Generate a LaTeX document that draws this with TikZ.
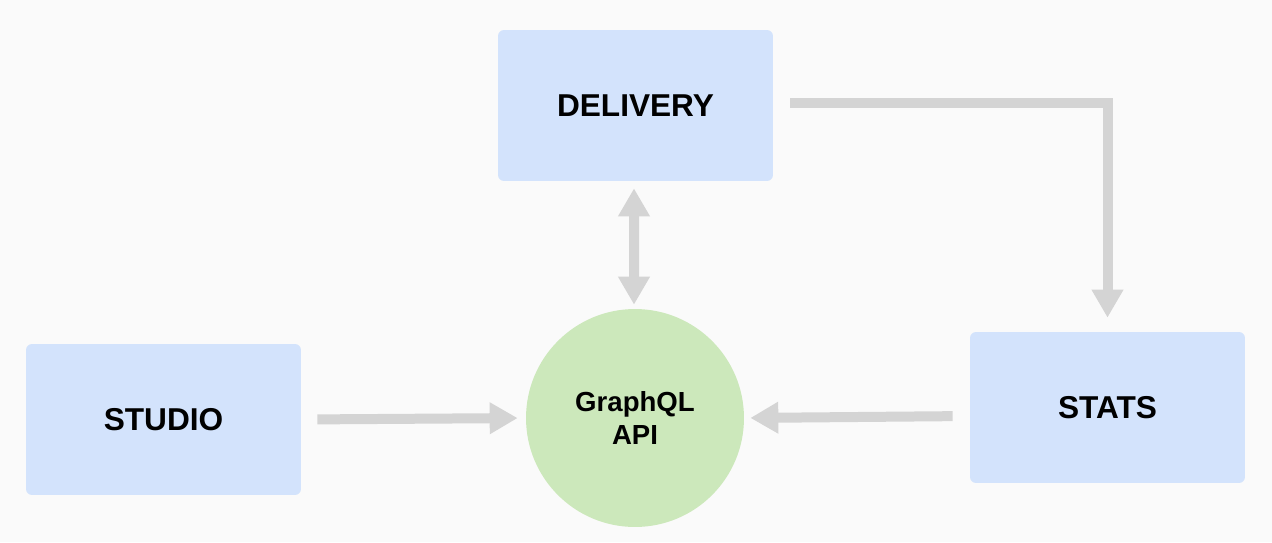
\documentclass[tikz,border=0pt]{standalone}
\usepackage{fontspec}
\setmainfont{Liberation Sans}
\usetikzlibrary{arrows.meta}

\definecolor{bgcol}{HTML}{FAFAFA}
\definecolor{boxcol}{HTML}{D3E3FC}
\definecolor{apicol}{HTML}{CCE8BB}
\definecolor{arrcol}{HTML}{D4D4D4}

\begin{document}
\begin{tikzpicture}[x=0.02cm,y=-0.02cm,
	block/.style={fill=boxcol,rounded corners=0.12cm,minimum width=5.5cm,minimum height=3.02cm,
		font=\fontsize{18}{21}\selectfont\bfseries},
	api/.style={circle,fill=apicol,minimum size=4.36cm,align=center,
		font=\fontsize{15.7}{19.3}\selectfont\bfseries},
	flow/.style={draw=arrcol,line width=0.2cm,-{Triangle[width=0.6cm,length=0.56cm]}}]

	\fill[bgcol] (0,0) rectangle (1272,542);
	\useasboundingbox (0,0) rectangle (1272,542);

	\node[block] (delivery) at (635.5,105.5) {DELIVERY};
	\node[block] (studio) at (163.5,419.5) {STUDIO};
	\node[block] (stats) at (1107.5,407.5) {STATS};
	\node[api] (graphql) at (635,418) {GraphQL\\API};

	\draw[flow,shorten <=0.34cm,shorten >=0.28cm] ([yshift=0.05cm]delivery.east) -| (stats.north);
	\draw[flow,{Triangle[width=0.6cm,length=0.56cm]}-{Triangle[width=0.6cm,length=0.56cm]},
		shorten <=0.14cm,shorten >=0.08cm] ([xshift=-0.03cm]delivery.south) -- ([xshift=-0.02cm]graphql.north);
	\draw[flow,shorten <=0.32cm,shorten >=0.16cm] (studio.east) -- (graphql.west);
	\draw[flow,shorten <=0.34cm,shorten >=0.12cm] ([yshift=-0.17cm]stats.west) -- (graphql.east);
\end{tikzpicture}
\end{document}
